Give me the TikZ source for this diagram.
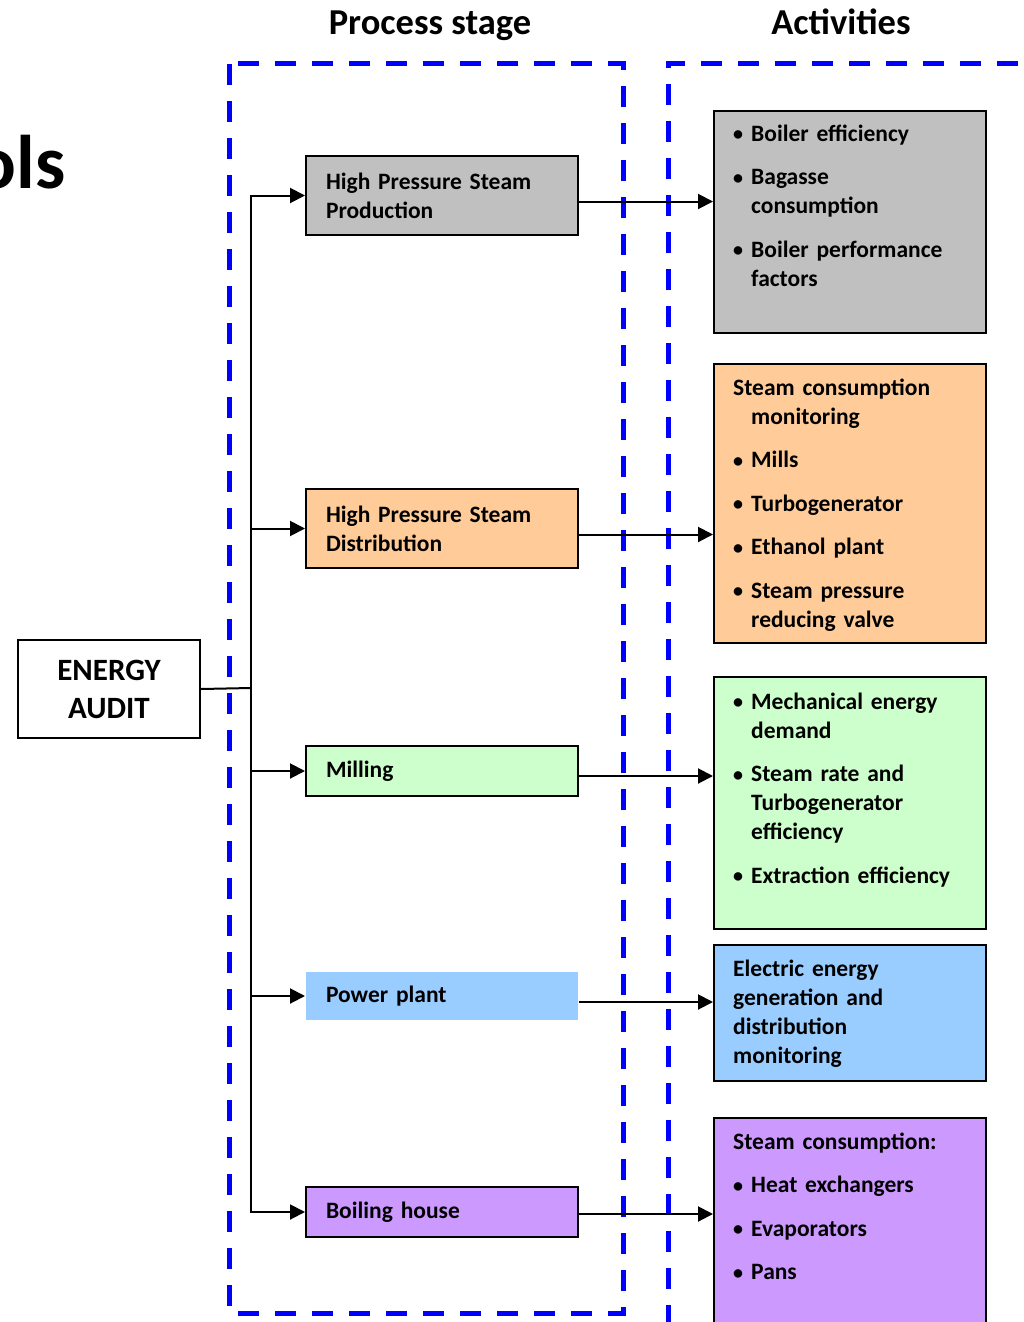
\documentclass[tikz,border=0pt]{standalone}
\usepackage{fontspec}
\setmainfont{Carlito}
\usetikzlibrary{arrows.meta}
\definecolor{cgray}{HTML}{C0C0C0}
\definecolor{corange}{HTML}{FFCC99}
\definecolor{cgreen}{HTML}{CCFFCC}
\definecolor{cblue}{HTML}{99CCFF}
\definecolor{cpurple}{HTML}{CC99FF}
\definecolor{dblue}{HTML}{0000FF}
\newcommand\bul{\makebox[18pt][l]{\raisebox{0.5pt}{\scalebox{0.85}{•}}}}
\newcommand\ind{\hspace*{18pt}}
\tikzset{
  boxfont/.style={font=\bfseries\fontsize{23.5}{29}\selectfont},
  pbox/.style={boxfont, draw=black, line width=2pt, anchor=north west, minimum width=272pt,
    text width=232pt, inner xsep=20pt, inner ysep=0pt, align=left},
  abox/.style={draw=black, line width=2pt, anchor=north west, minimum width=272pt, inner sep=0pt},
  atext/.style={boxfont, anchor=north west, inner sep=0pt, align=left, text width=260pt},
  conn/.style={line width=2pt, draw=black},
  arr/.style={conn, -{Triangle[length=15pt,width=15pt]}},
  dashbox/.style={draw=dblue, line width=5pt, dash pattern=on 21pt off 16pt},
  heading/.style={font=\bfseries\fontsize{36.5}{44}\selectfont, anchor=base}
}
\begin{document}
\begin{tikzpicture}[x=1pt,y=-1pt]
\useasboundingbox (0,0) rectangle (1023,1322);
\clip (0,0) rectangle (1023,1322);

% headings
\node[heading] (h1) at (430,35) {Process stage};
\node[heading] (h2) at (841,35) {Activities};
\node[font=\bfseries\fontsize{76}{80}\selectfont, anchor=base east, inner sep=0pt] (tools) at (66,188) {ols};

% dashed frames
\draw[dashbox] (229,64) rectangle (623,1313);
\draw[dashbox] (668,1400) -- (668,64) -- (1100,64);

% energy audit
\node[draw=black, line width=2pt, anchor=north west, minimum width=182pt, minimum height=98pt,
  inner sep=0pt, align=center, font=\bfseries\fontsize{31}{38}\selectfont] (ea) at (17,639) {ENERGY\\AUDIT};

% process boxes
\node[pbox, fill=cgray, minimum height=79pt] (p1) at (305,155) {High Pressure Steam\\Production};
\node[pbox, fill=corange, minimum height=79pt] (p2) at (305,488) {High Pressure Steam\\Distribution};
\node[pbox, fill=cgreen, minimum height=50pt] (p3) at (305,745) {Milling};
\node[pbox, fill=cblue, draw=none, minimum height=48pt] (p4) at (305,971) {Power plant};
\node[pbox, fill=cpurple, minimum height=50pt] (p5) at (305,1186) {Boiling house};

% activity boxes
\node[abox, fill=cgray, minimum height=222pt] (a1) at (713,110) {};
\node[abox, fill=corange, minimum height=279pt] (a2) at (713,363) {};
\node[abox, fill=cgreen, minimum height=252pt] (a3) at (713,676) {};
\node[abox, fill=cblue, minimum height=136pt] (a4) at (713,944) {};
\node[abox, fill=cpurple, minimum height=240pt] (a5) at (713,1117) {};

\node[atext] (t1) at (733,120.7) {\strut\bul Boiler efficiency\\[14.5pt]
  \bul Bagasse\\ \ind consumption\\[14.5pt]
  \bul Boiler performance\\ \ind factors};
\node[atext] (t2) at (733,374.7) {\strut Steam consumption\\ \ind monitoring\\[14.5pt]
  \bul Mills\\[14.5pt]
  \bul Turbogenerator\\[14.5pt]
  \bul Ethanol plant\\[14.5pt]
  \bul Steam pressure\\ \ind reducing valve};
\node[atext] (t3) at (733,688.7) {\strut\bul Mechanical energy\\ \ind demand\\[14.5pt]
  \bul Steam rate and\\ \ind Turbogenerator\\ \ind efficiency\\[14.5pt]
  \bul Extraction efficiency};
\node[atext] (t4) at (733,955.7) {\strut Electric energy\\ generation and\\ distribution\\ monitoring};
\node[atext] (t5) at (733,1128.7) {\strut Steam consumption:\\[14.5pt]
  \bul Heat exchangers\\[14.5pt]
  \bul Evaporators\\[14.5pt]
  \bul Pans};

% trunk
\coordinate (j) at (251,688);
\draw[conn] (ea.east) -- (j);
\draw[arr] (j) |- (p1.west);
\draw[arr] (j) |- (p2.west);
\draw[arr] (j) |- (p3.west);
\draw[arr] (j) |- (p4.west);
\draw[arr] (j) |- (p5.west);

% process -> activities
\draw[arr] ([yshift=-6pt]p1.east) -- ([yshift=-6pt]p1.east -| a1.west);
\draw[arr] ([yshift=-6pt]p2.east) -- ([yshift=-6pt]p2.east -| a2.west);
\draw[arr] ([yshift=-5pt]p3.east) -- ([yshift=-5pt]p3.east -| a3.west);
\draw[arr] ([yshift=-6pt]p4.east) -- ([yshift=-6pt]p4.east -| a4.west);
\draw[arr] ([yshift=-2pt]p5.east) -- ([yshift=-2pt]p5.east -| a5.west);
\end{tikzpicture}
\end{document}
